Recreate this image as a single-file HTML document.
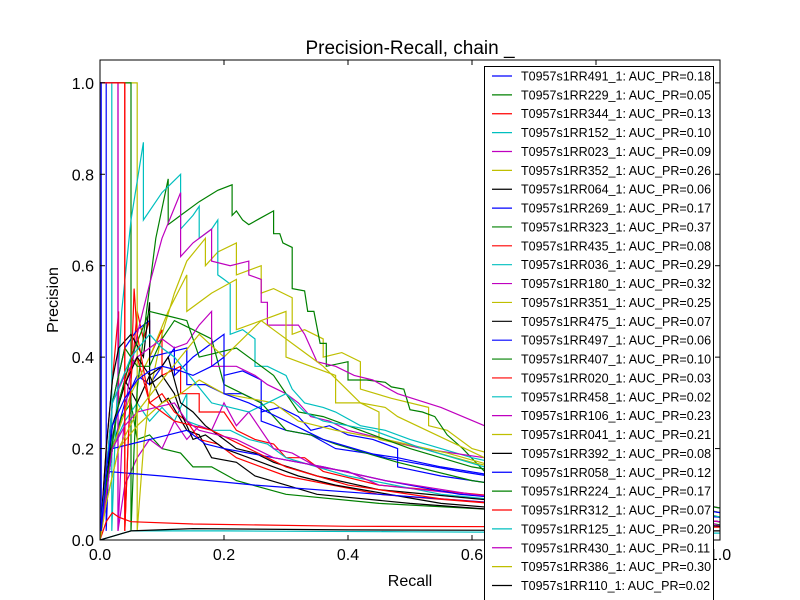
<!DOCTYPE html>
<html><head><meta charset="utf-8"><style>
html,body{margin:0;padding:0;background:#fff;}
svg{display:block;font-family:"Liberation Sans","DejaVu Sans",sans-serif;}
</style></head><body>
<svg id="chart" width="800" height="600" viewBox="0 0 800 600">
<rect x="0" y="0" width="800" height="600" fill="#fff"/>
<defs><clipPath id="plotclip"><rect x="100" y="60" width="620" height="480"/></clipPath></defs>
<g id="curves" clip-path="url(#plotclip)"></g>
<g id="axes"></g>
<text x="410" y="54" text-anchor="middle" font-size="19">Precision-Recall, chain _</text>
<text x="410" y="586" text-anchor="middle" font-size="16">Recall</text>
<text x="58" y="300" text-anchor="middle" font-size="16" transform="rotate(-90 58 300)">Precision</text>
<g id="legend"></g>
</svg>
<script>
const names = ["491","229","344","152","023","352","064","269","323","435","036","180","351","475","497","407","020","458","106","041","392","058","224","312","125","430","386","110","164"];
const aucs = ["0.18","0.05","0.13","0.10","0.09","0.26","0.06","0.17","0.37","0.08","0.29","0.32","0.25","0.07","0.06","0.10","0.03","0.02","0.23","0.21","0.08","0.12","0.17","0.07","0.20","0.11","0.30","0.02","0.23"];
const xTicks = [0,0.2,0.4,0.6,0.8,1.0];
const yTicks = [0,0.2,0.4,0.6,0.8,1.0];
// curves: "recall,precision" pairs
const curve491 = "0,0 0.01,0.1 0.02,0.2 0.04,0.3 0.06,0.36 0.08,0.34 0.10,0.38 0.12,0.42 0.12,0.36 0.15,0.40 0.18,0.43 0.20,0.45 0.20,0.36 0.23,0.37 0.26,0.35 0.26,0.28 0.29,0.29 0.32,0.27 0.34,0.24 0.37,0.25 0.40,0.23 0.44,0.22 0.48,0.20 0.48,0.16 0.55,0.14 1,0.05";
const curve229 = "0,0 0.01,0.1 0.02,0.2 0.035,0.27 0.05,0.30 0.06,0.22 0.08,0.23 0.10,0.20 0.13,0.19 0.15,0.16 0.18,0.16 0.22,0.13 0.30,0.10 0.45,0.08 1,0.04";
const curve344 = "0,1 0.04,1 0.04,0.02 0.045,0.2 0.05,0.35 0.06,0.5 0.07,0.44 0.08,0.48 0.08,0.40 0.10,0.46 0.10,0.36 0.13,0.38 0.13,0.32 0.16,0.32 0.16,0.28 0.20,0.28 0.22,0.24 0.25,0.22 0.28,0.21 0.30,0.18 0.33,0.18 0.36,0.15 0.45,0.12 1,0.05";
const curve152 = "0,0 0.01,0.1 0.02,0.2 0.04,0.26 0.06,0.30 0.08,0.26 0.10,0.29 0.12,0.26 0.14,0.32 0.14,0.26 0.18,0.24 0.21,0.24 0.24,0.22 0.27,0.21 0.30,0.18 0.35,0.16 0.40,0.14 0.55,0.10 1,0.04";
const curve023 = "0,1 0.029,1 0.029,0.02 0.04,0.12 0.06,0.18 0.08,0.22 0.10,0.20 0.12,0.26 0.14,0.22 0.16,0.25 0.18,0.24 0.20,0.30 0.22,0.25 0.24,0.28 0.28,0.20 0.31,0.19 0.35,0.16 0.40,0.15 0.45,0.12 1,0.04";
const curve352 = "0,1 0.06,1 0.06,0.02 0.07,0.20 0.08,0.32 0.10,0.45 0.12,0.54 0.14,0.61 0.17,0.66 0.17,0.60 0.19,0.63 0.22,0.65 0.22,0.58 0.24,0.59 0.26,0.60 0.26,0.54 0.28,0.55 0.31,0.53 0.31,0.45 0.33,0.46 0.36,0.44 0.36,0.40 0.39,0.41 0.42,0.39 0.42,0.33 0.47,0.31 0.53,0.29 0.53,0.25 0.56,0.24 0.60,0.20 1,0.05";
const curve064 = "0,0 0.01,0.12 0.02,0.22 0.03,0.30 0.04,0.35 0.06,0.30 0.07,0.33 0.08,0.36 0.10,0.30 0.11,0.31 0.14,0.24 0.16,0.23 0.18,0.18 0.22,0.17 0.25,0.14 0.30,0.12 0.35,0.10 0.50,0.08 1,0.03";
const curve269 = "0,1 0.01,1 0.01,0.02 0.015,0.2 0.02,0.3 0.04,0.42 0.06,0.46 0.08,0.48 0.08,0.40 0.11,0.41 0.14,0.42 0.14,0.34 0.17,0.34 0.20,0.32 0.23,0.32 0.26,0.30 0.26,0.26 0.30,0.24 0.34,0.23 0.38,0.20 0.43,0.19 0.48,0.18 0.55,0.16 1,0.06";
const curve323 = "0,1 0.05,1 0.05,0.02 0.055,0.2 0.06,0.33 0.075,0.5 0.09,0.66 0.11,0.79 0.11,0.69 0.13,0.71 0.16,0.74 0.19,0.765 0.213,0.777 0.213,0.71 0.22,0.72 0.23,0.70 0.24,0.69 0.26,0.705 0.28,0.72 0.28,0.67 0.29,0.67 0.295,0.65 0.31,0.64 0.31,0.55 0.33,0.545 0.335,0.50 0.345,0.50 0.355,0.43 0.365,0.43 0.365,0.38 0.40,0.39 0.40,0.35 0.43,0.35 0.46,0.345 0.47,0.335 0.49,0.33 0.50,0.285 0.52,0.28 0.54,0.27 0.56,0.23 0.585,0.20 0.62,0.15 0.70,0.10 1,0.033";
const curve435 = "0,0 0.01,0.2 0.02,0.35 0.03,0.5 0.03,0.3 0.05,0.38 0.06,0.40 0.08,0.30 0.10,0.32 0.12,0.28 0.14,0.26 0.16,0.22 0.19,0.21 0.22,0.18 0.26,0.16 0.30,0.14 0.45,0.10 1,0.04";
const curve036 = "0,1 0.019,1 0.019,0.02 0.025,0.25 0.035,0.50 0.05,0.70 0.07,0.87 0.07,0.70 0.10,0.76 0.13,0.80 0.13,0.68 0.15,0.71 0.16,0.73 0.16,0.66 0.18,0.68 0.19,0.70 0.19,0.58 0.20,0.57 0.21,0.56 0.21,0.45 0.23,0.46 0.25,0.44 0.25,0.38 0.27,0.38 0.30,0.36 0.31,0.33 0.33,0.30 0.36,0.29 0.38,0.28 0.42,0.25 0.46,0.24 0.50,0.22 0.60,0.18 1,0.06";
const curve180 = "0,1 0.029,1 0.029,0.02 0.035,0.20 0.045,0.33 0.06,0.45 0.08,0.56 0.10,0.66 0.13,0.76 0.13,0.62 0.15,0.65 0.18,0.68 0.18,0.61 0.21,0.60 0.24,0.61 0.24,0.58 0.26,0.57 0.26,0.52 0.27,0.52 0.27,0.47 0.30,0.47 0.32,0.47 0.33,0.45 0.34,0.42 0.35,0.39 0.38,0.38 0.41,0.36 0.44,0.35 0.48,0.32 0.55,0.29 0.62,0.25 0.74,0.175 1,0.03";
const curve351 = "0,0 0.01,0.1 0.02,0.2 0.05,0.32 0.08,0.40 0.11,0.50 0.14,0.58 0.14,0.50 0.18,0.54 0.22,0.57 0.22,0.46 0.26,0.48 0.30,0.50 0.30,0.40 0.34,0.38 0.38,0.36 0.38,0.30 0.42,0.30 0.45,0.28 0.45,0.22 0.52,0.20 0.60,0.17 1,0.05";
const curve475 = "0,0 0.01,0.2 0.02,0.35 0.03,0.42 0.05,0.45 0.07,0.40 0.08,0.52 0.08,0.34 0.10,0.36 0.12,0.32 0.13,0.28 0.15,0.22 0.17,0.23 0.20,0.20 0.24,0.18 0.28,0.16 0.32,0.14 0.38,0.12 0.55,0.08 1,0.03";
const curve497 = "0,0 0.01,0.15 0.10,0.14 0.25,0.12 0.45,0.10 0.65,0.08 1,0.05";
const curve407 = "0,0 0.01,0.15 0.02,0.3 0.04,0.42 0.06,0.38 0.08,0.38 0.10,0.44 0.12,0.48 0.15,0.46 0.18,0.44 0.20,0.34 0.23,0.32 0.26,0.30 0.30,0.24 0.34,0.23 0.38,0.21 0.48,0.17 0.60,0.13 1,0.05";
const curve020 = "0,0 0.01,0.04 0.02,0.06 0.03,0.05 0.05,0.04 0.15,0.035 0.40,0.03 1,0.028";
const curve458 = "0,0 0.05,0.02 0.20,0.02 0.50,0.018 1,0.015";
const curve106 = "0,0 0.01,0.15 0.02,0.3 0.04,0.36 0.06,0.40 0.08,0.42 0.10,0.44 0.12,0.42 0.14,0.43 0.16,0.47 0.18,0.50 0.18,0.38 0.22,0.38 0.25,0.36 0.27,0.34 0.30,0.32 0.32,0.30 0.34,0.27 0.37,0.26 0.40,0.24 0.46,0.22 0.52,0.20 0.62,0.18 1,0.07";
const curve041 = "0,0 0.01,0.08 0.03,0.2 0.06,0.25 0.10,0.30 0.13,0.32 0.16,0.35 0.20,0.32 0.24,0.31 0.28,0.30 0.32,0.26 0.35,0.25 0.38,0.24 0.42,0.23 0.46,0.22 0.56,0.19 0.64,0.16 1,0.06";
const curve392 = "0,0 0.01,0.12 0.02,0.25 0.04,0.34 0.06,0.40 0.08,0.36 0.10,0.38 0.11,0.40 0.13,0.30 0.15,0.28 0.17,0.25 0.20,0.22 0.22,0.20 0.25,0.19 0.28,0.17 0.35,0.14 0.45,0.11 1,0.04";
const curve058 = "0,0 0.01,0.1 0.02,0.2 0.05,0.21 0.08,0.22 0.11,0.23 0.14,0.24 0.17,0.21 0.20,0.20 0.24,0.19 0.28,0.18 0.36,0.16 0.46,0.13 0.58,0.10 1,0.05";
const curve224 = "0,0 0.01,0.12 0.03,0.3 0.05,0.40 0.08,0.50 0.11,0.49 0.14,0.48 0.16,0.40 0.19,0.41 0.22,0.42 0.25,0.39 0.28,0.36 0.32,0.28 0.36,0.27 0.40,0.25 0.50,0.20 0.60,0.16 1,0.07";
const curve312 = "0,1 0.04,1 0.04,0.02 0.045,0.2 0.05,0.35 0.055,0.55 0.06,0.45 0.08,0.30 0.10,0.28 0.12,0.26 0.15,0.25 0.18,0.24 0.21,0.22 0.24,0.20 0.27,0.18 0.30,0.16 0.35,0.14 0.40,0.12 0.55,0.09 1,0.04";
const curve125 = "0,0 0.01,0.15 0.02,0.3 0.05,0.40 0.08,0.45 0.10,0.42 0.12,0.40 0.15,0.35 0.18,0.30 0.21,0.29 0.24,0.28 0.27,0.30 0.30,0.32 0.33,0.28 0.36,0.26 0.40,0.25 0.44,0.24 0.52,0.20 0.62,0.16 1,0.05";
const curve430 = "0,0 0.01,0.1 0.02,0.2 0.04,0.25 0.06,0.28 0.09,0.29 0.12,0.30 0.14,0.26 0.16,0.24 0.19,0.23 0.22,0.22 0.25,0.20 0.28,0.18 0.32,0.17 0.36,0.16 0.46,0.13 0.60,0.10 1,0.04";
const curve386 = "0,0 0.01,0.08 0.03,0.2 0.06,0.28 0.10,0.35 0.13,0.40 0.16,0.45 0.20,0.40 0.23,0.44 0.26,0.48 0.29,0.45 0.32,0.42 0.34,0.40 0.36,0.38 0.39,0.34 0.42,0.30 0.46,0.29 0.48,0.27 0.62,0.18 1,0.06";
const curve110 = "0,0 0.05,0.02 0.15,0.025 0.40,0.022 1,0.02";
const curve164 = "0,1 0.002,1 0.002,0.02 0.01,0.15 0.02,0.25 0.04,0.31 0.06,0.35 0.08,0.37 0.10,0.38 0.13,0.37 0.15,0.36 0.18,0.38 0.20,0.40 0.20,0.32 0.24,0.30 0.27,0.28 0.30,0.26 0.33,0.24 0.36,0.22 0.41,0.20 0.46,0.18 0.58,0.15 1,0.06";
const curveData = [curve491,curve229,curve344,curve152,curve023,curve352,curve064,curve269,curve323,curve435,curve036,curve180,curve351,curve475,curve497,curve407,curve020,curve458,curve106,curve041,curve392,curve058,curve224,curve312,curve125,curve430,curve386,curve110,curve164];
const palette = ["#0000ff","#008000","#ff0000","#00bfbf","#bf00bf","#bfbf00","#000000"];

const NS = "http://www.w3.org/2000/svg";
const X0=100, X1=720, Y0=540, Y1=60, YMAX=1.05;
function xs(r){return X0+(X1-X0)*r;}
function ys(p){return Y0-(Y0-Y1)*p/YMAX;}

const cg = document.getElementById('curves');
curveData.forEach((s,i)=>{
  const pts = s.trim().split(/\s+/).map(t=>t.split(',').map(Number));
  const pl = document.createElementNS(NS,'polyline');
  pl.setAttribute('points', pts.map(p=>xs(p[0]).toFixed(1)+','+ys(p[1]).toFixed(1)).join(' '));
  pl.setAttribute('fill','none');
  pl.setAttribute('stroke',palette[i%7]);
  pl.setAttribute('stroke-width','1.2');
  
  
  cg.appendChild(pl);
});

const ag = document.getElementById('axes');
const frame = document.createElementNS(NS,'rect');
frame.setAttribute('x',X0);frame.setAttribute('y',Y1);frame.setAttribute('width',X1-X0);frame.setAttribute('height',Y0-Y1);
frame.setAttribute('fill','none');frame.setAttribute('stroke','#000');frame.setAttribute('stroke-width','1');


ag.appendChild(frame);
xTicks.forEach(v=>{
  const x=xs(v);
  [[Y0,Y0-5],[Y1,Y1+5]].forEach(a=>{
    const l=document.createElementNS(NS,'line');
    l.setAttribute('x1',x);l.setAttribute('x2',x);l.setAttribute('y1',a[0]);l.setAttribute('y2',a[1]);l.setAttribute('stroke','#000');
    
    
    ag.appendChild(l);
  });
  const t=document.createElementNS(NS,'text');
  t.setAttribute('x',x);t.setAttribute('y',Y0+20);t.setAttribute('text-anchor','middle');t.setAttribute('font-size','16');
  t.textContent=v.toFixed(1);
  
  
  ag.appendChild(t);
});
yTicks.forEach(v=>{
  const y=ys(v);
  [[X0,X0+5],[X1,X1-5]].forEach(a=>{
    const l=document.createElementNS(NS,'line');
    l.setAttribute('y1',y);l.setAttribute('y2',y);l.setAttribute('x1',a[0]);l.setAttribute('x2',a[1]);l.setAttribute('stroke','#000');
    
    
    ag.appendChild(l);
  });
  const t=document.createElementNS(NS,'text');
  t.setAttribute('x',X0-6);t.setAttribute('y',y+6);t.setAttribute('text-anchor','end');t.setAttribute('font-size','16');
  t.textContent=v.toFixed(1);
  
  
  ag.appendChild(t);
});

const lg = document.getElementById('legend');
const box=document.createElementNS(NS,'rect');
box.setAttribute('x',484.5);box.setAttribute('y',66.5);box.setAttribute('width',229);box.setAttribute('height',560);
box.setAttribute('fill','#fff');box.setAttribute('stroke','#000');


lg.appendChild(box);
names.forEach((n,i)=>{
  const y=76+i*18.87;
  const l=document.createElementNS(NS,'line');
  l.setAttribute('x1',492);l.setAttribute('x2',512);l.setAttribute('y1',y);l.setAttribute('y2',y);
  l.setAttribute('stroke',palette[i%7]);l.setAttribute('stroke-width','1.2');
  
  
  lg.appendChild(l);
  const t=document.createElementNS(NS,'text');
  t.setAttribute('x',521);t.setAttribute('y',y+4.5);t.setAttribute('font-size','12.5');
  t.textContent='T0957s1RR'+n+'_1: AUC_PR='+aucs[i];
  
  
  lg.appendChild(t);
});
</script>
</body></html>
